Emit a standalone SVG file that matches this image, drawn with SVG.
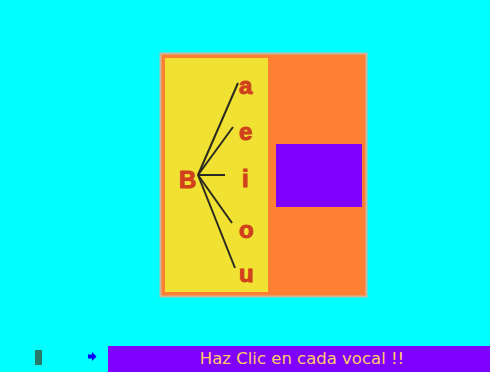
<svg xmlns="http://www.w3.org/2000/svg" width="490" height="372" viewBox="0 0 490 372">
<style>
.v{font-family:"Liberation Sans",Arial,sans-serif;font-weight:900;font-size:24px;fill:#d0401c;stroke:#d0401c;stroke-width:1}
.c line{stroke:#2a2a20;stroke-width:2}
</style>
<rect width="490" height="372" fill="#00ffff"/>
<g id="panel">
<rect x="160.5" y="53.5" width="206" height="243" fill="#ff8033" stroke="#c8b8a0" stroke-width="2"/>
<rect x="165" y="58" width="103" height="234" fill="#f0e132"/>
<rect x="276" y="144" width="86" height="63" fill="#8000ff"/>
</g>
<g class="c" id="connectors">
<line x1="198" y1="175" x2="238" y2="83"/>
<line x1="198" y1="175" x2="233" y2="127"/>
<line x1="198" y1="175" x2="225" y2="175"/>
<line x1="198" y1="175" x2="232" y2="223"/>
<line x1="198" y1="175" x2="235" y2="268"/>
</g>
<g id="nB"><text class="v" x="179" y="188">B</text></g>
<g id="na"><text class="v" x="239" y="94">a</text></g>
<g id="ne"><text class="v" x="239" y="140">e</text></g>
<g id="ni"><text class="v" x="242" y="187">i</text></g>
<g id="no"><text class="v" x="239" y="238">o</text></g>
<g id="nu"><text class="v" x="239" y="282">u</text></g>
<g id="bottom">
<rect x="35" y="350" width="7" height="15" fill="#2a7a6a"/>
<path d="M88 354.5 H92 V352 L96.5 356.5 L92 361 V358.5 H88 Z" fill="#0000ff"/>
<rect x="108" y="346" width="382" height="26" fill="#8000ff"/>
<text x="302" y="364" text-anchor="middle" font-family="'Comic Sans MS','DejaVu Sans',sans-serif" font-size="16.5" fill="#ffcc66">Haz Clic en cada vocal !!</text>
</g>
</svg>
